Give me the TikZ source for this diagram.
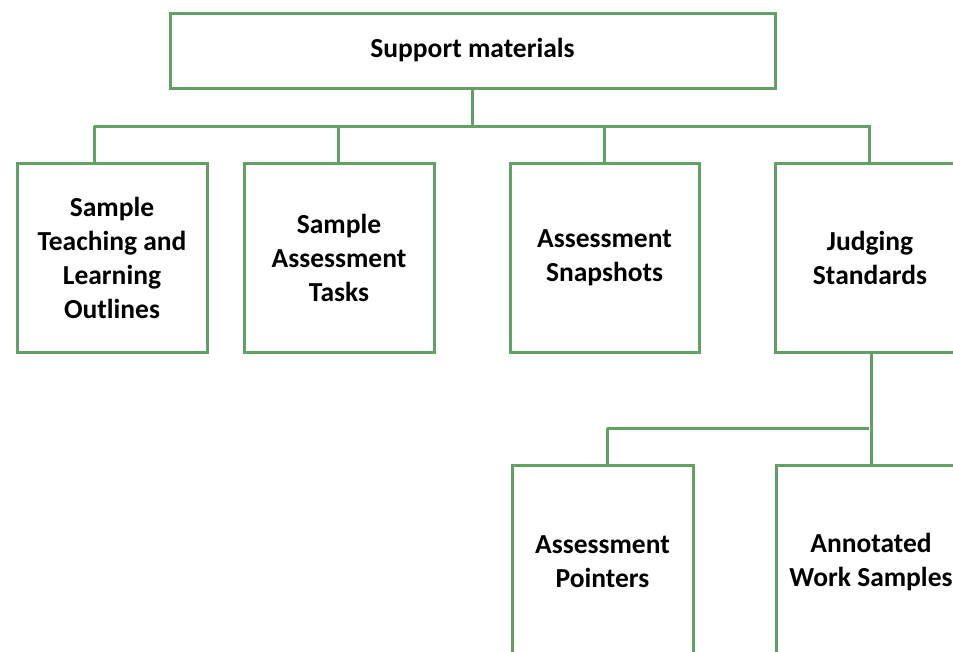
\documentclass[tikz,border=0pt]{standalone}
\usepackage{fontspec}
\setmainfont{Carlito}
\definecolor{boxgreen}{RGB}{98,160,100}
\begin{document}
\begin{tikzpicture}[x=1pt,y=-1pt,
  box/.style={draw=boxgreen,line width=3pt,fill=white,align=center,
    font=\fontsize{27.5}{34}\selectfont\bfseries,inner sep=0pt},
  link/.style={draw=boxgreen,line width=3pt}]
\clip (0,0) rectangle (953,651);
\fill[white] (0,0) rectangle (953,651);
\node[box,minimum width=605pt,minimum height=75pt] (top) at (472.5,50.5) {Support materials};
\node[box,minimum width=190pt,minimum height=189pt] (b1) at (112,257.5) {Sample\\Teaching and\\Learning\\Outlines};
\node[box,minimum width=190pt,minimum height=189pt] (b2) at (339,257.5) {Sample\\Assessment\\Tasks};
\node[box,minimum width=189pt,minimum height=189pt] (b3) at (604.5,257.5) {Assessment\\Snapshots};
\node[box,minimum width=190pt,minimum height=189pt] (b4) at (870,257.5) {Judging\\Standards};
\node[box,minimum width=181pt,minimum height=194pt] (b5) at (602.5,562) {Assessment\\Pointers};
\node[box,minimum width=190pt,minimum height=194pt] (b6) at (871,562) {Annotated\\Work Samples};
% first level connectors
\coordinate (busL) at (94,126);
\coordinate (busR) at (871,126);
\coordinate (j1) at (94,126);
\coordinate (j2) at (338,126);
\coordinate (j3) at (604,126);
\coordinate (j4) at (869,126);
\draw[link] (top.south) -- (top.south |- busL);
\draw[link] (busL) -- (busR);
\draw[link] (j1) -- (j1 |- b1.north);
\draw[link] (j2) -- (j2 |- b2.north);
\draw[link] (j3) -- (j3 |- b3.north);
\draw[link] (j4) -- (j4 |- b4.north);
% second level connectors
\coordinate (k0) at (871,352);
\coordinate (kL) at (607,428);
\coordinate (kR) at (869,428);
\draw[link] (k0) -- (k0 |- b6.north);
\draw[link] (kL) -- (kR);
\draw[link] (kL) -- (kL |- b5.north);
\end{tikzpicture}
\end{document}
